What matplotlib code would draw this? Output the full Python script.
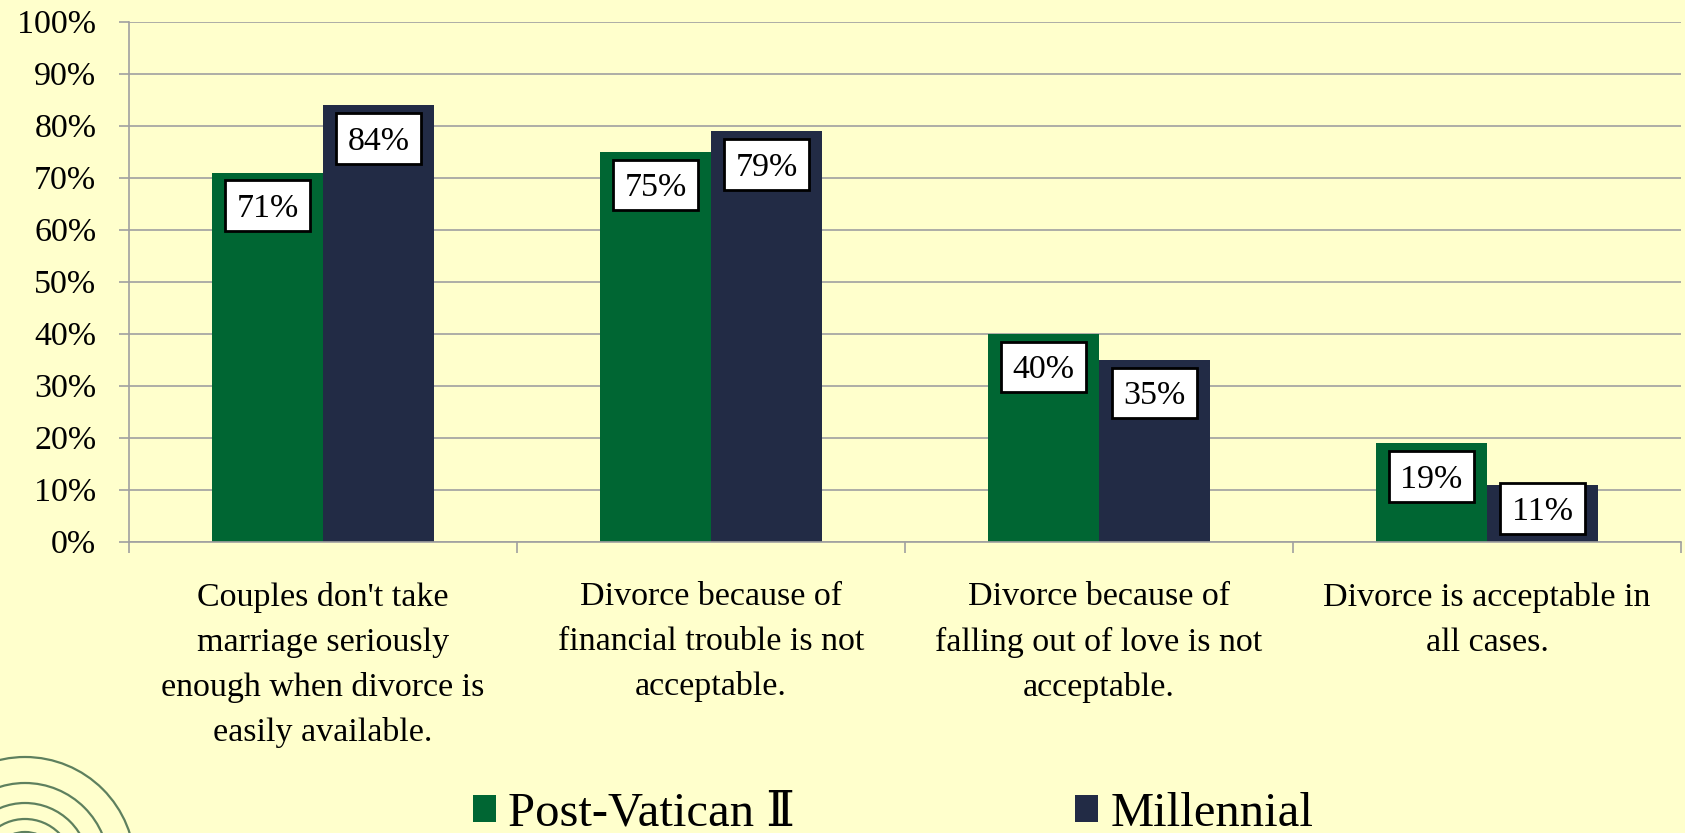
import matplotlib
matplotlib.use("Agg")
import matplotlib.pyplot as plt
import numpy as np
from matplotlib.patches import Rectangle, Circle

## données
categories = ["Couples don't take\nmarriage seriously\nenough when divorce is\neasily available.",
              "Divorce because of\nfinancial trouble is not\nacceptable.",
              "Divorce because of\nfalling out of love is not\nacceptable.",
              "Divorce is acceptable in\nall cases."]
post_vatican = [71, 75, 40, 19]
millennial = [84, 79, 35, 11]
series_names = ["Post-Vatican Ⅱ", "Millennial"]
y_ticks = [0, 10, 20, 30, 40, 50, 60, 70, 80, 90, 100]

plt.rcParams['font.family'] = ['Liberation Serif', 'DejaVu Serif']

fond = '#FFFFCC'
vert = '#006633'
marine = '#222B45'
gris = '#A0A0A0'

W, H = 1685, 833
fig = plt.figure(figsize=(W / 100, H / 100), dpi=100, facecolor=fond)

# cercles décoratifs en bas à gauche (coordonnées pixels)
deco = fig.add_axes([0, 0, 1, 1], zorder=0)
deco.set_xlim(0, W)
deco.set_ylim(H, 0)
deco.axis('off')
for r in [110, 84, 64, 48, 35]:
    deco.add_patch(Circle((25, 867), r, fill=False, ec='#5E805E', lw=1.6))

ax = fig.add_axes([129 / W, (H - 541.7) / H, 1552 / W, 520 / H], zorder=1)
ax.set_facecolor('none')

x = np.arange(len(categories))
w = 0.286
b1 = ax.bar(x - w / 2, post_vatican, w, color=vert, label=series_names[0], zorder=2)
b2 = ax.bar(x + w / 2, millennial, w, color=marine, label=series_names[1], zorder=2)

#### étiquettes de valeurs dans des cadres blancs
box_w = 0.219
box_h = 9.8
for bars in (b1, b2):
    for rect in bars:
        v = rect.get_height()
        cx = rect.get_x() + rect.get_width() / 2
        top = max(v - 1.5, 1.5 + box_h)
        ax.add_patch(Rectangle((cx - box_w / 2, top - box_h), box_w, box_h,
                               fc='white', ec='black', lw=2, zorder=3))
        ax.text(cx, top - box_h / 2 - 2.2, "{:.0f}%".format(v), ha='center',
                va='baseline', fontsize=24.5, zorder=4)

ax.set_xlim(-0.5, 3.5)
ax.set_ylim(0, 100)
ax.set_yticks(y_ticks)
ax.set_yticklabels(["{}%".format(t) for t in y_ticks], fontsize=24.5)
ax.yaxis.grid(True, color=gris, lw=1.2)
ax.set_axisbelow(True)

ax.set_xticks(x)
ax.set_xticklabels(categories, fontsize=24.5, linespacing=1.6)
ax.set_xticks(np.arange(-0.5, 4, 1), minor=True)
ax.tick_params(axis='x', which='major', length=0, pad=29)
ax.tick_params(axis='x', which='minor', length=8, color=gris, width=1.2)
ax.tick_params(axis='y', length=7.5, color=gris, width=1.2, pad=16)

for s in ['top', 'right']:
    ax.spines[s].set_visible(False)
for s in ['left', 'bottom']:
    ax.spines[s].set_color(gris)
    ax.spines[s].set_linewidth(1.2)

fig.legend(handles=[b1, b2], loc='center left', bbox_to_anchor=(473 / W, 1 - 814 / H),
           ncol=2, frameon=False, fontsize=35, handlelength=0.47, handleheight=0.47,
           handletextpad=0.25, columnspacing=5.77, borderpad=0, borderaxespad=0)

plt.savefig('out.png', dpi=100, facecolor=fond)
